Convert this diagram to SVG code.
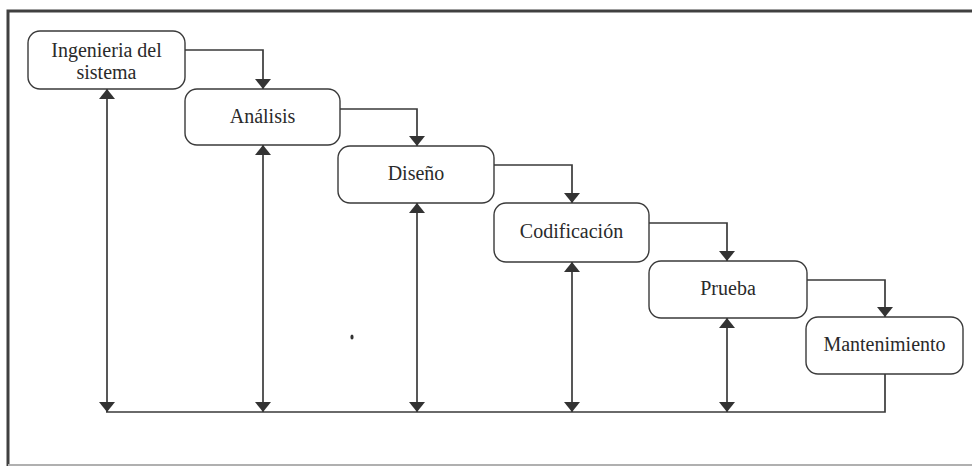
<svg xmlns="http://www.w3.org/2000/svg" width="972" height="467" viewBox="0 0 972 467">
<style>
.box{fill:#fff;stroke:#3a3a3a;stroke-width:1.4}
.lbl{font-family:"Liberation Serif","Times New Roman",serif;font-size:20px;fill:#2a2a2a;text-anchor:middle}
.ln{fill:none;stroke:#3a3a3a;stroke-width:1.7}
</style>
<defs>
<marker id="ah" viewBox="0 0 10 16" refX="10" refY="8" markerWidth="10" markerHeight="16" markerUnits="userSpaceOnUse" orient="auto-start-reverse">
<path d="M0,0 L10,8 L0,16 Z" fill="#333"/>
</marker>
</defs>
<rect width="972" height="467" fill="#fff"/>
<g id="frame">
<path d="M8,466 L8,11 L972,11" fill="none" stroke="#404040" stroke-width="3"/>
<line x1="8" y1="465" x2="972" y2="465" stroke="#b0b0b0" stroke-width="2"/>
</g>
<g id="connectors">
<path class="ln" d="M185,50 H263 V89" marker-end="url(#ah)"/>
<path class="ln" d="M340,109 H417 V146" marker-end="url(#ah)"/>
<path class="ln" d="M494,165 H572 V203" marker-end="url(#ah)"/>
<path class="ln" d="M649,223 H727 V261" marker-end="url(#ah)"/>
<path class="ln" d="M807,280 H885 V317" marker-end="url(#ah)"/>
<path class="ln" d="M885,374 V412 H106"/>
<line class="ln" x1="107" y1="89" x2="107" y2="412" marker-start="url(#ah)" marker-end="url(#ah)"/>
<line class="ln" x1="263" y1="145" x2="263" y2="412" marker-start="url(#ah)" marker-end="url(#ah)"/>
<line class="ln" x1="417" y1="203" x2="417" y2="412" marker-start="url(#ah)" marker-end="url(#ah)"/>
<line class="ln" x1="572" y1="262" x2="572" y2="412" marker-start="url(#ah)" marker-end="url(#ah)"/>
<line class="ln" x1="727" y1="318" x2="727" y2="412" marker-start="url(#ah)" marker-end="url(#ah)"/>
</g>
<g id="n1">
<rect class="box" x="28" y="31" width="157" height="58" rx="12"/>
<text class="lbl" x="106.5" y="57">Ingenieria del</text>
<text class="lbl" x="106.5" y="79">sistema</text>
</g>
<g id="n2">
<rect class="box" x="185" y="89" width="155" height="56" rx="12"/>
<text class="lbl" x="262.5" y="123">Análisis</text>
</g>
<g id="n3">
<rect class="box" x="338" y="146" width="156" height="57" rx="12"/>
<text class="lbl" x="416" y="180">Diseño</text>
</g>
<g id="n4">
<rect class="box" x="494" y="203" width="155" height="59" rx="12"/>
<text class="lbl" x="571.5" y="238">Codificación</text>
</g>
<g id="n5">
<rect class="box" x="649" y="261" width="158" height="57" rx="12"/>
<text class="lbl" x="728" y="295">Prueba</text>
</g>
<g id="n6">
<rect class="box" x="806" y="317" width="157" height="57" rx="12"/>
<text class="lbl" x="884.5" y="351">Mantenimiento</text>
</g>
<ellipse cx="352" cy="337" rx="1.6" ry="2.6" fill="#333"/>
</svg>
